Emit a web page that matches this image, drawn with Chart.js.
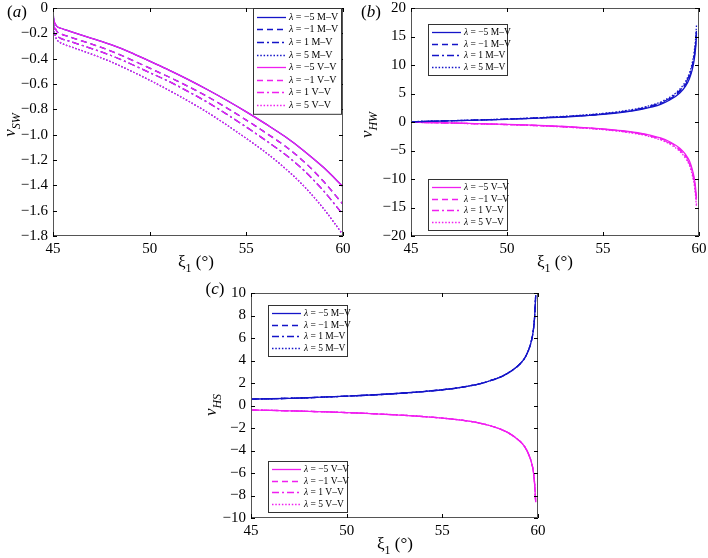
<!DOCTYPE html>
<html lang="en">
<head>
<meta charset="UTF-8">
<title>v_SW, v_HW and v_HS against xi_1</title>
<style>
  body { margin: 0; background: #fff; }
  #wrap { position: relative; width: 708px; height: 558px; overflow: hidden;
          font-family: 'Liberation Serif', 'DejaVu Serif', serif; color: #000; }
  canvas { position: absolute; }
  .lbl { position: absolute; font-size: 17px; white-space: nowrap; transform: translate(-50%, -50%); }
  .ylab { transform: translate(-50%, -50%) rotate(-90deg); }
  .lbl sub { font-size: 12px; }
</style>
</head>
<body>
<div id="wrap">
  <canvas id="chartA"></canvas>
  <canvas id="chartB"></canvas>
  <canvas id="chartC"></canvas>

  <div class="lbl" style="left:17px;top:12px">(<i>a</i>)</div>
  <div class="lbl" style="left:371px;top:12px">(<i>b</i>)</div>
  <div class="lbl" style="left:215px;top:289px">(<i>c</i>)</div>

  <div class="lbl ylab" style="left:12px;top:125px"><i>v</i><sub><i>SW</i></sub></div>
  <div class="lbl ylab" style="left:369px;top:125px"><i>v</i><sub><i>HW</i></sub></div>
  <div class="lbl ylab" style="left:213px;top:405px"><i>v</i><sub><i>HS</i></sub></div>

  <div class="lbl" style="left:196px;top:264px">ξ<sub>1</sub> (°)</div>
  <div class="lbl" style="left:555px;top:264px">ξ<sub>1</sub> (°)</div>
  <div class="lbl" style="left:395px;top:546px">ξ<sub>1</sub> (°)</div>
</div>

<script src="https://cdn.jsdelivr.net/npm/chart.js"></script>
<script>
  // ---- data ----
  const lambdas = ['−5', '−1', '1', '5'];
  const BLUE = '#1414c8';
  const MAGENTA = '#f01ef0';
  const dashes = [[], [6, 4], [7, 3, 2, 3], [1.5, 1.8]];

  // (a) v_SW, M–V and V–V coincide
  const xsA = [45, 45.03, 45.1, 45.2, 45.4, 45.7, 46, 47, 48, 49, 50, 51, 52, 53, 54, 55, 56, 57, 58, 59, 60];
  const swL5m = [0, -0.08, -0.12, -0.145, -0.16, -0.175, -0.19, -0.24, -0.29, -0.35, -0.42, -0.49, -0.565, -0.645, -0.73, -0.82, -0.915, -1.015, -1.13, -1.26, -1.41];
  const swL1m = [0, -0.1, -0.15, -0.185, -0.205, -0.22, -0.235, -0.285, -0.34, -0.405, -0.475, -0.545, -0.62, -0.70, -0.79, -0.885, -0.985, -1.09, -1.215, -1.37, -1.55];
  const swL1p = [0, -0.12, -0.18, -0.215, -0.24, -0.255, -0.27, -0.32, -0.375, -0.44, -0.51, -0.58, -0.66, -0.745, -0.84, -0.94, -1.045, -1.155, -1.285, -1.445, -1.63];
  const swL5p = [0, -0.14, -0.21, -0.25, -0.275, -0.295, -0.31, -0.365, -0.425, -0.495, -0.57, -0.65, -0.735, -0.825, -0.925, -1.03, -1.14, -1.265, -1.41, -1.585, -1.79];

  // (b) v_HW
  const xsB = [45, 46, 47, 48, 49, 50, 51, 52, 53, 54, 55, 56, 57, 57.5, 58, 58.5, 59, 59.3, 59.5, 59.65, 59.75, 59.82, 59.87];
  const hwMV1 = [0.05, 0.12, 0.2, 0.28, 0.37, 0.47, 0.58, 0.72, 0.88, 1.08, 1.33, 1.68, 2.2, 2.6, 3.1, 3.9, 5.1, 6.3, 7.6, 9.2, 10.9, 12.8, 15.0];
  const hwMV2 = [0.05, 0.13, 0.21, 0.29, 0.39, 0.49, 0.61, 0.75, 0.92, 1.13, 1.39, 1.76, 2.3, 2.72, 3.25, 4.08, 5.35, 6.6, 7.95, 9.65, 11.4, 13.4, 15.6];
  const hwMV3 = [0.05, 0.13, 0.22, 0.3, 0.4, 0.51, 0.63, 0.78, 0.95, 1.17, 1.44, 1.82, 2.38, 2.82, 3.36, 4.22, 5.52, 6.82, 8.22, 9.95, 11.8, 13.9, 16.2];
  const hwMV4 = [0.06, 0.14, 0.23, 0.32, 0.42, 0.53, 0.66, 0.82, 1.0, 1.23, 1.51, 1.9, 2.49, 2.94, 3.5, 4.4, 5.76, 7.12, 8.6, 10.4, 12.3, 14.5, 17.0];
  const hwVV1 = [-0.04, -0.1, -0.17, -0.25, -0.33, -0.42, -0.52, -0.64, -0.79, -0.97, -1.2, -1.52, -1.98, -2.35, -2.8, -3.5, -4.6, -5.7, -6.8, -8.3, -9.8, -11.5, -13.4];
  const hwVV2 = [-0.04, -0.1, -0.18, -0.26, -0.34, -0.44, -0.54, -0.67, -0.82, -1.01, -1.25, -1.58, -2.06, -2.44, -2.91, -3.64, -4.78, -5.93, -7.07, -8.63, -10.2, -12.0, -13.9];
  const hwVV3 = [-0.04, -0.11, -0.18, -0.27, -0.36, -0.45, -0.56, -0.69, -0.85, -1.05, -1.3, -1.64, -2.14, -2.54, -3.02, -3.78, -4.97, -6.16, -7.34, -8.96, -10.6, -12.4, -14.5];
  const hwVV4 = [-0.04, -0.11, -0.19, -0.28, -0.37, -0.47, -0.58, -0.72, -0.88, -1.09, -1.34, -1.7, -2.22, -2.63, -3.14, -3.92, -5.15, -6.38, -7.62, -9.3, -11.0, -12.9, -15.0];

  // (c) v_HS, all lambdas coincide
  const xsC = [45, 46, 47, 48, 49, 50, 51, 52, 53, 54, 55, 56, 57, 57.5, 58, 58.5, 59, 59.3, 59.5, 59.65, 59.75, 59.82, 59.88];
  const hsMV = [0.57, 0.6, 0.64, 0.69, 0.76, 0.83, 0.91, 1.0, 1.11, 1.24, 1.4, 1.62, 1.95, 2.2, 2.5, 2.95, 3.6, 4.2, 4.9, 5.7, 6.6, 7.8, 9.8];
  const hsVV = [-0.4, -0.43, -0.47, -0.52, -0.57, -0.63, -0.7, -0.78, -0.87, -0.98, -1.12, -1.3, -1.58, -1.8, -2.08, -2.48, -3.1, -3.65, -4.3, -5.0, -5.8, -6.9, -8.6];

  // ---- helpers ----
  const PADL = 60, PADT = 12, PADR = 14, PADB = 30;
  const serif = "'Liberation Serif', 'DejaVu Serif', serif";

  function placeCanvas(id, area) {
    const c = document.getElementById(id);
    const w = area.right - area.left + PADL + PADR;
    const h = area.bottom - area.top + PADT + PADB;
    c.width = w;
    c.height = h;
    c.style.left = (area.left - PADL) + 'px';
    c.style.top = (area.top - PADT) + 'px';
    c.style.width = w + 'px';
    c.style.height = h + 'px';
    return c;
  }

  function series(xs, ys, color, k, kind, order) {
    return {
      label: 'λ = ' + lambdas[k] + ' ' + kind,
      data: xs.map((x, i) => ({ x: x, y: ys[i] })),
      borderColor: color,
      borderDash: dashes[k],
      borderWidth: 1.3,
      pointRadius: 0,
      fill: false,
      cubicInterpolationMode: 'monotone',
      order: order
    };
  }

  const minus = v => (v < 0 ? '−' : '') + Math.abs(v);

  // box with inward ticks on all four sides
  const boxTicks = {
    id: 'boxTicks',
    afterDatasetsDraw(chart) {
      const { ctx, chartArea: a, scales: { x, y } } = chart;
      ctx.save();
      ctx.strokeStyle = '#555';
      ctx.lineWidth = 1;
      ctx.strokeRect(a.left + 0.5, a.top + 0.5, a.right - a.left - 1, a.bottom - a.top - 1);
      ctx.strokeStyle = '#000';
      ctx.beginPath();
      x.ticks.forEach(t => {
        const px = Math.round(x.getPixelForValue(t.value)) + 0.5;
        ctx.moveTo(px, a.bottom); ctx.lineTo(px, a.bottom - 4);
        ctx.moveTo(px, a.top); ctx.lineTo(px, a.top + 4);
      });
      y.ticks.forEach(t => {
        const py = Math.round(y.getPixelForValue(t.value)) + 0.5;
        ctx.moveTo(a.left, py); ctx.lineTo(a.left + 4, py);
        ctx.moveTo(a.right, py); ctx.lineTo(a.right - 4, py);
      });
      ctx.stroke();
      ctx.restore();
    }
  };

  // framed legends placed inside the plot area
  const boxLegend = {
    id: 'boxLegend',
    afterDraw(chart, args, opts) {
      const { ctx, chartArea: a } = chart;
      (opts.boxes || []).forEach(b => {
        const x0 = Math.round(a.left + b.dx), y0 = Math.round(a.top + b.dy);
        const h = b.items.length * b.row + 5;
        ctx.save();
        ctx.fillStyle = '#fff';
        ctx.fillRect(x0, y0, b.w, h);
        ctx.strokeStyle = '#333';
        ctx.lineWidth = 1;
        ctx.strokeRect(x0 + 0.5, y0 + 0.5, b.w, h);
        b.items.forEach((di, i) => {
          const ds = chart.data.datasets[di];
          const cy = Math.round(y0 + 2.5 + b.row * (i + 0.5)) + 0.5;
          ctx.setLineDash(ds.borderDash || []);
          ctx.strokeStyle = ds.borderColor;
          ctx.lineWidth = 1.3;
          ctx.beginPath();
          ctx.moveTo(x0 + 4, cy);
          ctx.lineTo(x0 + 4 + b.sample, cy);
          ctx.stroke();
          ctx.setLineDash([]);
          ctx.fillStyle = '#000';
          ctx.textBaseline = 'middle';
          ctx.textAlign = 'left';
          let tx = x0 + 7 + b.sample;
          ctx.font = 'italic ' + b.size + 'px ' + serif;
          ctx.fillText(ds.label.charAt(0), tx, cy);
          tx += ctx.measureText(ds.label.charAt(0)).width;
          ctx.font = b.size + 'px ' + serif;
          ctx.fillText(ds.label.slice(1), tx, cy);
        });
        ctx.restore();
      });
    }
  };

  function makeChart(id, area, datasets, yMin, yMax, yStep, yFmt, boxes) {
    const canvas = placeCanvas(id, area);
    return new Chart(canvas, {
      type: 'line',
      data: { datasets: datasets },
      options: {
        responsive: false,
        animation: false,
        events: [],
        layout: { padding: { left: 0, top: PADT, right: PADR, bottom: 0 } },
        plugins: {
          legend: { display: false },
          tooltip: { enabled: false },
          boxLegend: { boxes: boxes }
        },
        scales: {
          x: {
            type: 'linear', min: 45, max: 60,
            ticks: { stepSize: 5, color: '#000', padding: 4, maxRotation: 0, font: { family: serif, size: 15 } },
            grid: { display: false, drawTicks: false },
            border: { display: false },
            afterFit: s => { s.height = PADB; }
          },
          y: {
            min: yMin, max: yMax,
            ticks: { stepSize: yStep, color: '#000', padding: 5, font: { family: serif, size: 15 }, callback: yFmt },
            grid: { display: false, drawTicks: false },
            border: { display: false },
            afterFit: s => { s.width = PADL; }
          }
        }
      },
      plugins: [boxTicks, boxLegend]
    });
  }

  // ---- panel (a) ----
  const swSets = [swL5m, swL1m, swL1p, swL5p];
  const dsA = [];
  swSets.forEach((ys, k) => dsA.push(series(xsA, ys, BLUE, k, 'M–V', 1)));
  swSets.forEach((ys, k) => dsA.push(series(xsA, ys, MAGENTA, k, 'V–V', 0)));
  makeChart('chartA', { left: 53, top: 6, right: 343, bottom: 236 }, dsA, -1.8, 0, 0.2,
    v => Math.abs(v) < 1e-9 ? '0' : '−' + Math.abs(v).toFixed(1),
    [{ dx: 200, dy: 0, w: 88, row: 12.6, sample: 29, size: 10, items: [0, 1, 2, 3, 4, 5, 6, 7] }]);

  // ---- panel (b) ----
  const dsB = [];
  [hwMV1, hwMV2, hwMV3, hwMV4].forEach((ys, k) => dsB.push(series(xsB, ys, BLUE, k, 'M–V', 0)));
  [hwVV1, hwVV2, hwVV3, hwVV4].forEach((ys, k) => dsB.push(series(xsB, ys, MAGENTA, k, 'V–V', 0)));
  makeChart('chartB', { left: 411, top: 6, right: 699, bottom: 236 }, dsB, -20, 20, 5, minus,
    [{ dx: 17, dy: 16, w: 79, row: 11.5, sample: 29, size: 9.5, items: [0, 1, 2, 3] },
     { dx: 17, dy: 171, w: 79, row: 11.5, sample: 29, size: 9.5, items: [4, 5, 6, 7] }]);

  // ---- panel (c) ----
  const dsC = [];
  [0, 1, 2, 3].forEach(k => dsC.push(series(xsC, hsMV, BLUE, k, 'M–V', 0)));
  [0, 1, 2, 3].forEach(k => dsC.push(series(xsC, hsVV, MAGENTA, k, 'V–V', 0)));
  makeChart('chartC', { left: 251, top: 291, right: 538, bottom: 518 }, dsC, -10, 10, 2, minus,
    [{ dx: 17, dy: 12, w: 79, row: 11.5, sample: 29, size: 9.5, items: [0, 1, 2, 3] },
     { dx: 17, dy: 168, w: 79, row: 11.5, sample: 29, size: 9.5, items: [4, 5, 6, 7] }]);
</script>
</body>
</html>
